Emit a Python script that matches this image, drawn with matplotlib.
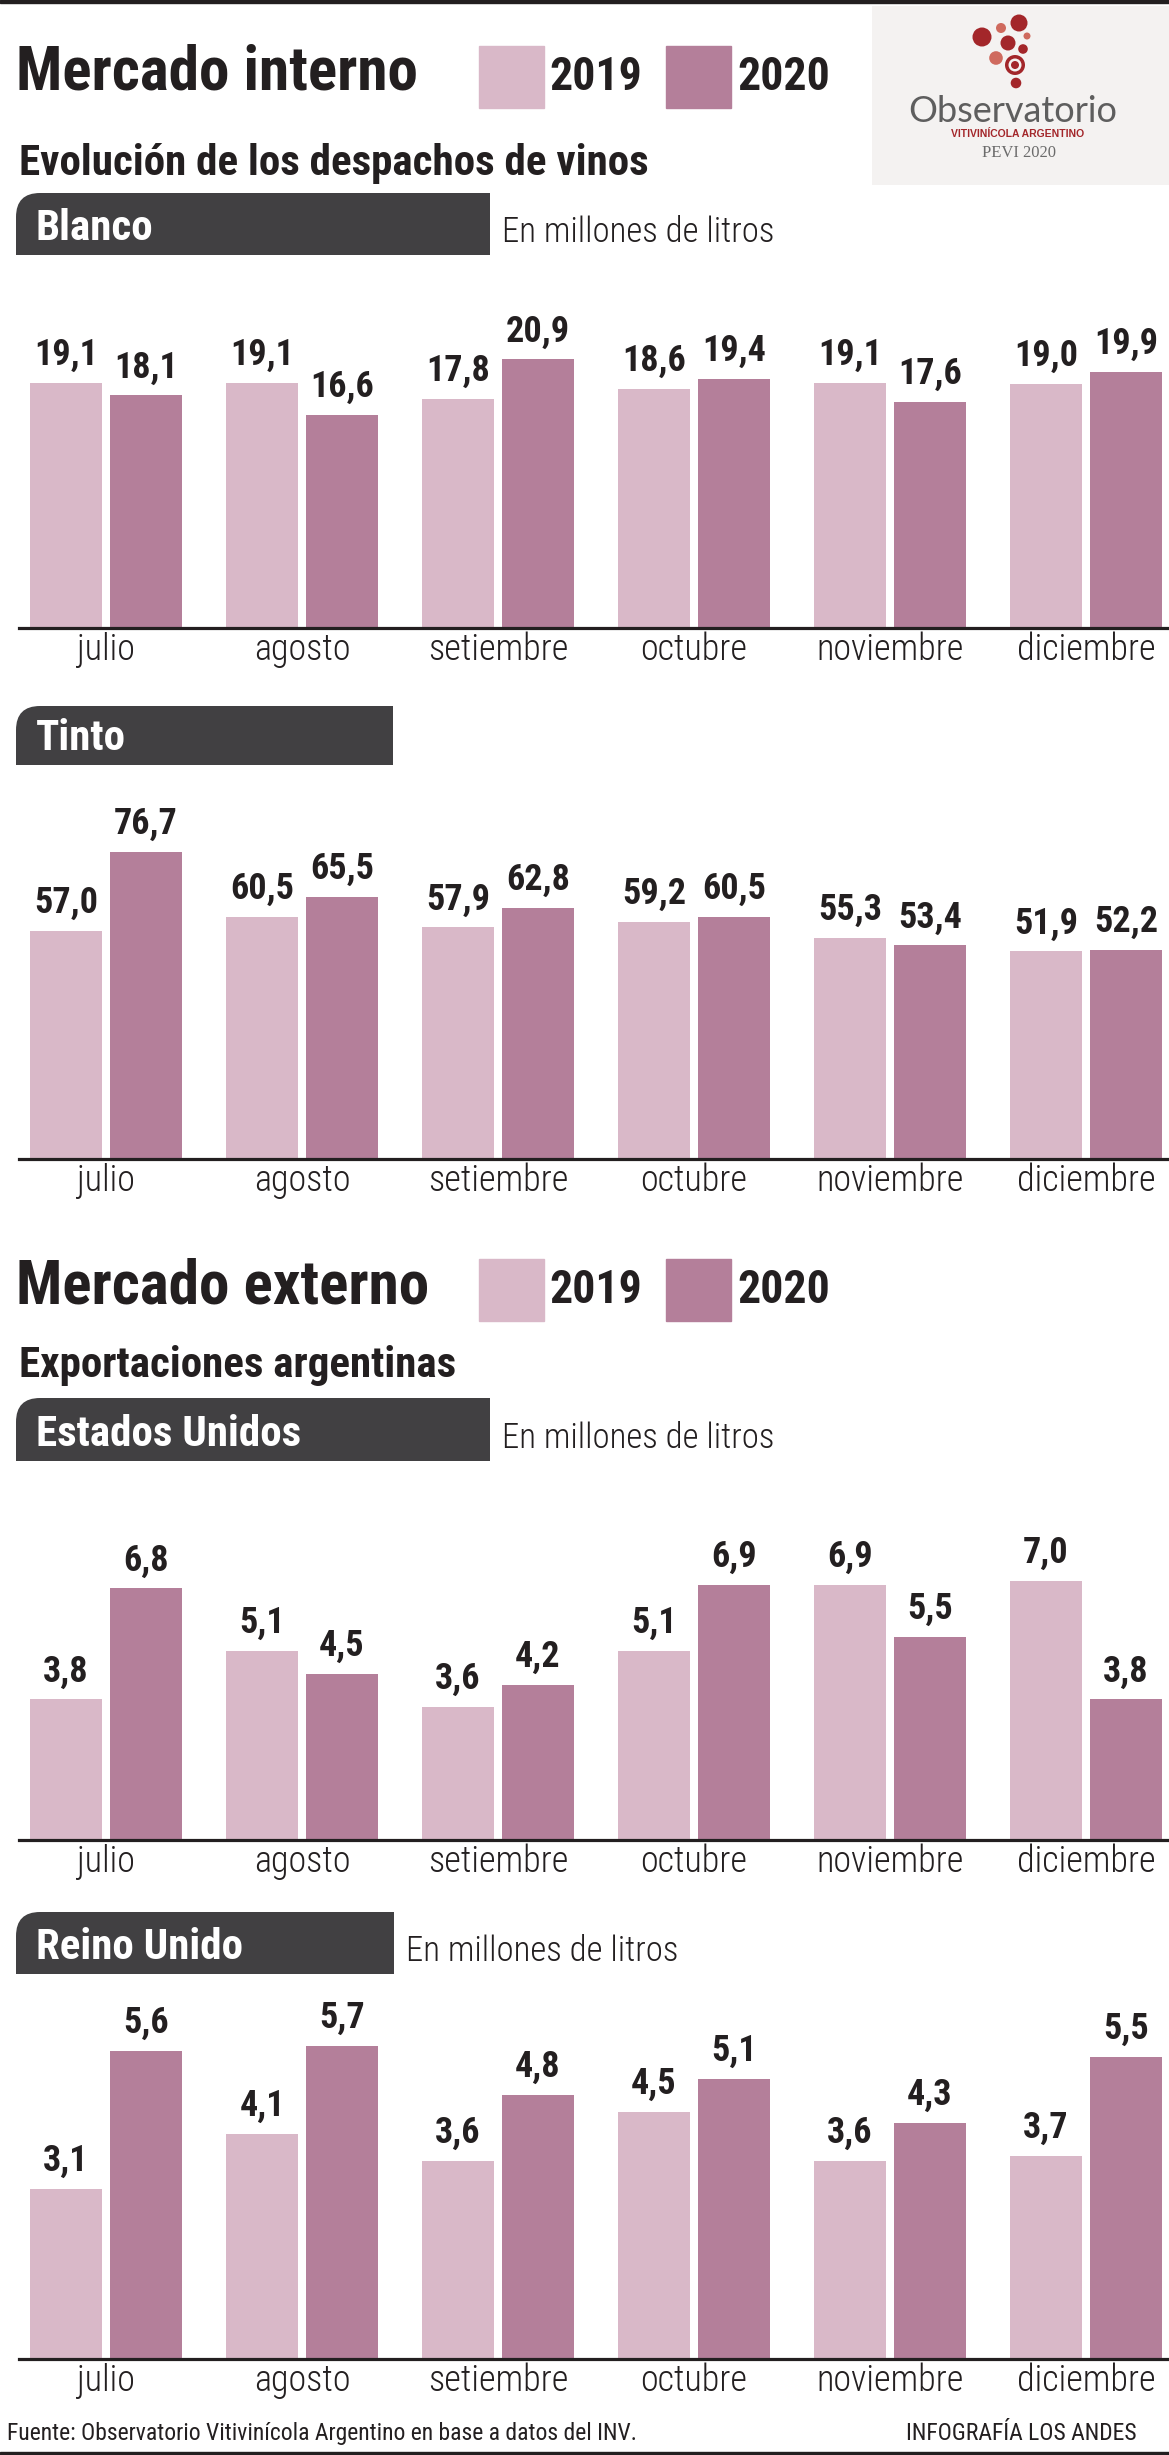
import matplotlib
matplotlib.use("Agg")
import matplotlib.pyplot as plt
from matplotlib.patches import Rectangle, FancyBboxPatch, Circle
import numpy as np

W, H = 1169, 2455

# datos (millones de litros)
meses = ["julio", "agosto", "setiembre", "octubre", "noviembre", "diciembre"]
anios = ["2019", "2020"]

blanco_2019 = [19.1, 19.1, 17.8, 18.6, 19.1, 19.0]
blanco_2020 = [18.1, 16.6, 20.9, 19.4, 17.6, 19.9]

tinto_2019 = [57.0, 60.5, 57.9, 59.2, 55.3, 51.9]
tinto_2020 = [76.7, 65.5, 62.8, 60.5, 53.4, 52.2]

eeuu_2019 = [3.8, 5.1, 3.6, 5.1, 6.9, 7.0]
eeuu_2020 = [6.8, 4.5, 4.2, 6.9, 5.5, 3.8]

ru_2019 = [3.1, 4.1, 3.6, 4.5, 3.6, 3.7]
ru_2020 = [5.6, 5.7, 4.8, 5.1, 4.3, 5.5]

C19 = "#d9b8c8"
C20 = "#b47f9a"
DARK = "#231f20"
BOX = "#414042"
NARROW = ["Roboto Condensed", "Roboto", "DejaVu Sans"]
BOLD = ["Liberation Sans", "DejaVu Sans"]

fig = plt.figure(figsize=(W / 100, H / 100), dpi=100)

# capa de fondo en pixeles
bg = fig.add_axes([0, 0, 1, 1])
bg.set_xlim(0, W)
bg.set_ylim(H, 0)
bg.axis("off")

# lineas negras arriba y abajo
bg.add_patch(Rectangle((0, 0), W, 3, color=DARK))
bg.add_patch(Rectangle((0, H - 3), W, 3, color=DARK))


def titulo(y, texto, sub, y_sub):
    bg.text(16, y, texto, fontsize=44, fontweight="bold", family=NARROW,
            color=DARK, va="baseline")
    # leyenda
    bg.add_patch(Rectangle((479, y - 44), 65, 62, color=C19))
    bg.text(549, y, anios[0], fontsize=33, fontweight="bold", family=NARROW,
            color=DARK, va="baseline")
    bg.add_patch(Rectangle((666, y - 44), 65, 62, color=C20))
    bg.text(737, y, anios[1], fontsize=33, fontweight="bold", family=NARROW,
            color=DARK, va="baseline")
    bg.text(19, y_sub, sub, fontsize=31, fontweight="bold", family=NARROW,
            color=DARK, va="baseline")


def caja(y0, y1, x1, label, unidad=True):
    x0, r = 16, 24
    bg.add_patch(FancyBboxPatch((x0, y0), x1 - x0, y1 - y0,
                                boxstyle=f"round,pad=0,rounding_size={r}",
                                color=BOX, lw=0))
    bg.add_patch(Rectangle((x0 + r, y0), x1 - x0 - r, y1 - y0, color=BOX, lw=0))
    bg.add_patch(Rectangle((x0, y0 + r), x1 - x0, y1 - y0 - r, color=BOX, lw=0))
    bg.text(36, y1 - 15, label, fontsize=31, fontweight="bold", family=NARROW,
            color="white", va="baseline")
    if unidad:
        bg.text(x1 + 12, y1 - 13, "En millones de litros", fontsize=25,
                fontweight="light", family=NARROW, color=DARK, va="baseline")


def grafico(top, base, scale, v19, v20):
    ax = fig.add_axes([19 / W, 1 - base / H, (W - 19) / W, (base - top) / H])
    ax.set_facecolor("none")
    x = np.arange(len(meses))
    ax.bar(x - 0.204, v19, width=0.367, color=C19)
    ax.bar(x + 0.204, v20, width=0.367, color=C20)
    for xs, vals in [(x - 0.204, v19), (x + 0.204, v20)]:
        for xi, v in zip(xs, vals):
            ax.annotate(f"{v:.1f}".replace(".", ","), (xi, v),
                        xytext=(0, 13), textcoords="offset points",
                        ha="center", va="baseline", fontsize=26,
                        fontweight="bold", family=NARROW, color=DARK)
    ax.set_xlim((19 - 106) / 196, (W - 106) / 196)
    ax.set_ylim(0, (base - top) / scale)
    ax.set_xticks(x)
    ax.set_xticklabels(meses, fontsize=26, fontweight="light", family=NARROW,
                       color=DARK)
    ax.tick_params(axis="x", length=0, pad=3)
    ax.set_yticks([])
    for s in ["top", "right", "left"]:
        ax.spines[s].set_visible(False)
    ax.spines["bottom"].set_linewidth(2.3)
    ax.spines["bottom"].set_color(DARK)
    return ax


# ---------------- Mercado interno ----------------
titulo(90, "Mercado interno", "Evolución de los despachos de vinos", 175)
caja(193, 255, 490, "Blanco")
grafico(270, 628, 12.85, blanco_2019, blanco_2020)

caja(706, 765, 393, "Tinto", unidad=False)
grafico(780, 1159, 4.0, tinto_2019, tinto_2020)

# ---------------- Mercado externo ----------------
titulo(1303, "Mercado externo", "Exportaciones argentinas", 1377)
caja(1398, 1461, 490, "Estados Unidos")
grafico(1480, 1840, 37.0, eeuu_2019, eeuu_2020)

caja(1912, 1974, 394, "Reino Unido")
grafico(1990, 2359, 55.0, ru_2019, ru_2020)

# ---------------- logo ----------------
bg.add_patch(Rectangle((872, 6), 297, 179, color="#f4f2f1", lw=0))
ROJO = "#a3262a"
SALMON = "#cf6a5e"
for cx, cy, rr, col in [(982, 37, 9.5, ROJO), (1019, 23, 8.5, ROJO),
                        (1001, 28, 5, SALMON), (1008, 43, 7.5, ROJO),
                        (1027, 36, 3.5, SALMON), (1023, 49, 4.8, ROJO),
                        (996, 58, 6.8, SALMON), (1015, 65, 10, ROJO),
                        (1015, 65, 6.5, "#f4f2f1"), (1015, 65, 4, ROJO),
                        (1016, 83, 5.3, ROJO)]:
    bg.add_patch(Circle((cx, cy), rr, color=col, lw=0))
bg.text(1013, 122, "Observatorio", fontsize=26, family=["Lato", "DejaVu Sans"],
        color="#5e5e5e", ha="center", va="baseline")
bg.text(1018, 137, "VITIVINÍCOLA ARGENTINO", fontsize=7.5, fontweight="bold",
        family=BOLD, color=ROJO, ha="center", va="baseline")
bg.text(1019, 157, "PEVI 2020", fontsize=12, family=["Liberation Serif", "DejaVu Serif"],
        color="#6b6b6b", ha="center", va="baseline")

# ---------------- pie ----------------
bg.text(7, 2440, "Fuente: Observatorio Vitivinícola Argentino en base a datos del INV.",
        fontsize=17, family=NARROW, color=DARK, va="baseline")
bg.text(1137, 2440, "INFOGRAFÍA LOS ANDES", fontsize=17, family=NARROW,
        color=DARK, ha="right", va="baseline")

fig.savefig("out.png", dpi=100, facecolor="white")
